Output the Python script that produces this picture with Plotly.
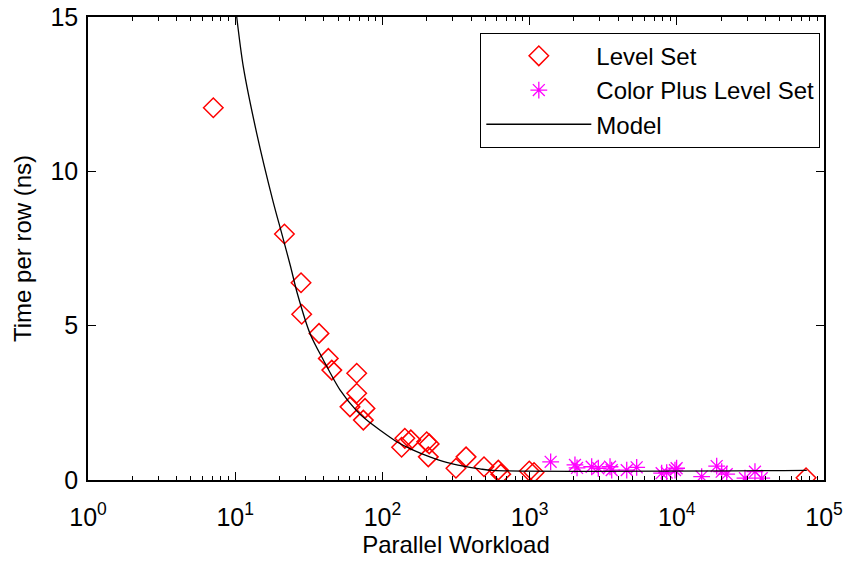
import plotly.graph_objects as go

# Level Set data (Parallel Workload, Time per row in ns)
level_x = [7.1, 21.6, 28.0, 28.3, 37.1, 42.9, 45.3, 66.9, 66.9, 60.2, 76.2, 74.2,
           142, 156, 135, 200, 208, 205, 370, 316, 490, 613, 637, 995, 1072, 75500]
level_y = [12.06, 7.97, 6.39, 5.37, 4.75, 3.94, 3.56, 3.46, 2.81, 2.37, 2.32, 1.94,
           1.35, 1.30, 1.06, 1.24, 1.17, 0.75, 0.75, 0.38, 0.43, 0.32, 0.19, 0.29, 0.24, 0.07]

# Color Plus Level Set data
color_x = [1390, 2033, 2100, 2641, 2930, 3519, 3612, 4569, 5338, 7890, 8535, 9720, 9970,
           14750, 18660, 20180, 21830, 29050, 33960, 37750]
color_y = [0.59, 0.49, 0.39, 0.43, 0.38, 0.43, 0.32, 0.32, 0.41, 0.22, 0.24, 0.32, 0.38,
           0.11, 0.45, 0.27, 0.19, 0.06, 0.27, 0.06]

# Model curve
model_x = [10.24, 11.35, 14.0, 17.98, 20.7, 23.8, 26.4, 32.2, 39.7, 51.5, 66.9, 78.2,
           96, 125, 162, 210, 273, 355, 460, 560, 76400]
model_y = [15.0, 13.39, 11.23, 9.07, 7.99, 6.91, 6.05, 4.75, 3.89, 2.92, 2.24, 1.94,
           1.62, 1.24, 0.97, 0.75, 0.57, 0.45, 0.36, 0.31, 0.31]

x_tickvals = [1, 10, 100, 1000, 10000, 100000]
x_ticktext = ["10<sup>0</sup>", "10<sup>1</sup>", "10<sup>2</sup>",
              "10<sup>3</sup>", "10<sup>4</sup>", "10<sup>5</sup>"]
x_minor_digits = [2, 3, 4, 5, 6, 7, 8, 9]
y_tickvals = [0, 5, 10, 15]

x_minor_vals = [d * dec for dec in x_tickvals[:-1] for d in x_minor_digits]

FONT = "Liberation Sans, Arial, Helvetica, sans-serif"

fig = go.Figure()
fig.add_trace(go.Scatter(
    x=level_x, y=level_y, mode="markers", name="Level Set",
    marker=dict(symbol="diamond-open", size=15, color="#ff0000",
                line=dict(color="#ff0000", width=1.5)),
    legendgroup="a"))
fig.add_trace(go.Scatter(
    x=color_x, y=color_y, mode="markers", name="Color Plus Level Set",
    marker=dict(symbol="asterisk-open", size=14, color="#ff00ff",
                line=dict(color="#ff00ff", width=1.3)),
    legendgroup="b"))
fig.add_trace(go.Scatter(
    x=model_x, y=model_y, mode="lines", name="Model",
    line=dict(color="black", width=1.3, shape="spline", smoothing=0.8),
    legendgroup="c"))

fig.update_layout(
    width=848, height=561,
    margin=dict(l=88, r=24, t=17, b=81, autoexpand=False),
    paper_bgcolor="white", plot_bgcolor="white",
    font=dict(family=FONT, size=24, color="black"),
    showlegend=True,
    legend=dict(x=0.995, xanchor="right", y=0.966, yanchor="top",
                bgcolor="white", bordercolor="black", borderwidth=1,
                font=dict(size=24), itemwidth=105, traceorder="grouped",
                tracegroupgap=0),
)
fig.update_xaxes(
    type="log", range=[0, 5], tickmode="array", tickvals=x_tickvals, ticktext=x_ticktext,
    ticks="inside", ticklen=8, tickwidth=1, tickcolor="black",
    showline=True, linecolor="black", linewidth=1.5, mirror="ticks",
    showgrid=False, zeroline=False, automargin=False,
    minor=dict(ticks="inside", ticklen=4, tickwidth=1, tickcolor="black",
               tickmode="array", tickvals=x_minor_vals, showgrid=False),
    tickfont=dict(size=25), ticklabelstandoff=14,
    title=dict(text="Parallel Workload", font=dict(size=24), standoff=6),
)
fig.update_yaxes(
    range=[0, 15], tickmode="array", tickvals=y_tickvals,
    ticks="inside", ticklen=8, tickwidth=1, tickcolor="black",
    showline=True, linecolor="black", linewidth=1.5, mirror="ticks",
    showgrid=False, zeroline=False, automargin=False,
    tickfont=dict(size=25), ticklabelstandoff=3,
    title=dict(text="Time per row (ns)", font=dict(size=24), standoff=12),
)

fig.write_html("out.html")
